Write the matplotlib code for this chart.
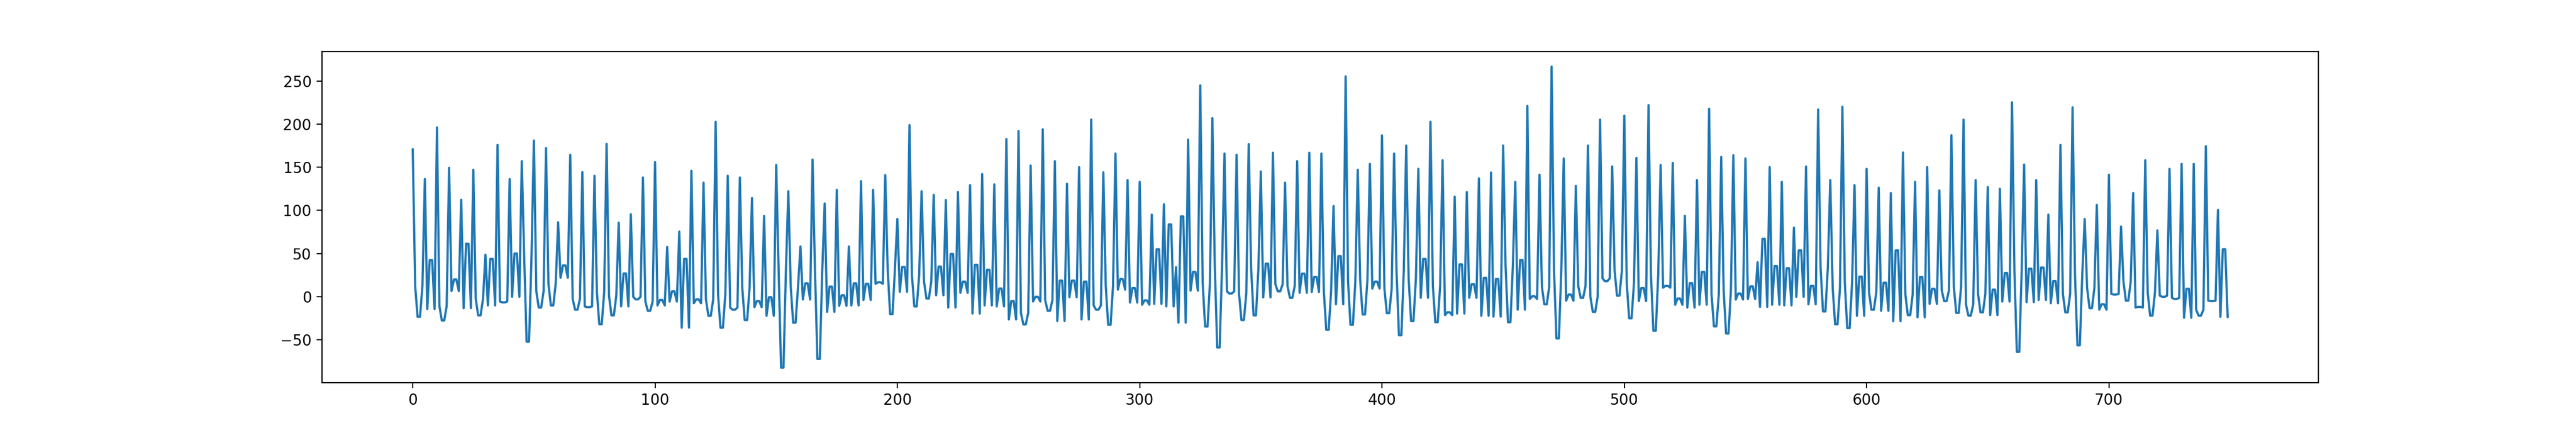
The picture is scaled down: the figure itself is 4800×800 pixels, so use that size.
import numpy as np
import matplotlib
matplotlib.use('Agg')
import matplotlib.pyplot as plt

# the series repeats in groups of five samples: peak, shoulder, mid, mid, shoulder
# values, one entry per group (150 groups -> 750 samples)
peak = [170.7, 136.3, 196.2, 149.4, 112.3, 147.1, 48.6, 175.9, 136.3, 157.1,
        181.0, 172.2, 86.2, 164.4, 144.4, 140.1, 177.2, 85.7, 95.5, 138.1,
        155.9, 57.4, 75.4, 145.9, 132.1, 202.8, 140.1, 138.1, 114.3, 93.5,
        152.6, 122.1, 58.1, 158.9, 108.0, 123.8, 58.1, 133.8, 123.8, 140.9,
        90.0, 199.0, 122.1, 118.0, 112.0, 121.3, 129.3, 142.1, 130.1, 182.7,
        192.0, 151.9, 194.0, 157.1, 130.8, 150.1, 205.3, 144.1, 165.9, 135.1,
        133.1, 95.0, 107.0, 34.1, 182.0, 244.9, 207.0, 165.9, 164.4, 176.9,
        145.1, 166.9, 132.1, 157.1, 166.9, 165.9, 105.0, 255.4, 147.1, 153.9,
        187.0, 165.9, 175.2, 148.1, 202.8, 158.1, 116.0, 121.3, 137.1, 143.9,
        175.2, 133.1, 221.1, 141.4, 266.7, 160.2, 128.3, 175.2, 205.3, 150.9,
        209.8, 160.9, 222.1, 152.6, 155.1, 93.7, 135.1, 217.8, 161.9, 163.9,
        160.2, 39.8, 150.1, 133.1, 80.0, 150.9, 217.0, 135.1, 220.3, 129.3,
        148.1, 126.3, 120.1, 167.2, 133.1, 150.1, 123.1, 187.2, 205.3, 135.1,
        127.1, 125.1, 225.3, 153.1, 135.1, 95.0, 175.9, 219.5, 90.0, 106.3,
        141.4, 81.2, 120.1, 158.1, 76.7, 148.1, 153.9, 153.9, 174.4, 100.5]

shoulder = [12.3, -14.5, -11.0, 6.3, -13.5, -2.8, -10.3, -5.8, -0.3, 45.0,
            6.0, 14.8, 21.8, -2.8, -11.5, 4.8, 1.0, -11.5, -0.3, -5.8,
            -10.3, -5.8, -36.1, -7.8, -3.3, 2.3, -12.8, 9.8, -12.3, -22.3,
            30.0, 11.0, -3.5, 30.0, -17.8, -10.8, -10.3, -4.0, 14.8, 32.0,
            5.5, 24.8, 17.3, 1.5, -12.8, 4.3, -19.8, -10.3, -11.5, -26.6,
            -19.0, -5.8, -4.0, -28.3, -0.8, -26.6, -10.3, 12.3, 8.0, -7.0,
            -9.5, -8.5, -11.5, -30.3, 6.8, 16.0, 35.0, 6.0, 3.5, 32.3,
            -1.0, 14.3, 12.3, 4.3, 5.3, 6.0, -9.0, 17.3, 19.3, 9.3,
            9.3, 30.0, 21.1, -1.5, 12.3, -21.6, -19.8, -1.5, -22.3, -23.3,
            35.0, -15.3, -2.8, 11.0, 30.0, -4.8, 12.0, -0.3, 21.1, 29.8,
            16.0, -5.3, 25.0, 10.3, -9.5, -12.8, -9.5, 2.3, 7.3, -3.5,
            -2.8, -12.0, -9.5, -10.3, -0.3, -9.0, 33.6, 9.8, 16.0, -22.3,
            4.8, -16.5, -28.6, 2.3, -24.1, -8.5, 7.3, 11.0, -9.0, 2.8,
            -21.6, -5.8, 30.0, -6.5, -4.0, -7.8, 3.0, 25.0, 9.8, -15.3,
            3.0, 17.3, -12.8, 4.8, 1.0, -1.5, -24.6, -15.3, -4.8, -23.6]

mid = [-23.5, 42.4, -27.8, 19.8, 61.2, -21.8, 43.6, -6.8, 49.9, -52.4,
       -12.8, -10.3, 36.1, -15.3, -12.3, -32.1, -21.8, 26.8, -3.3, -16.5,
       -4.0, 6.0, 43.6, -3.3, -22.3, -36.1, -15.3, -27.3, -5.3, -0.8,
       -82.5, -30.3, 15.3, -72.4, 11.5, 1.5, 15.3, 14.8, 16.5, -20.3,
       34.3, -11.5, -2.3, 34.8, 49.4, 17.3, 36.8, 31.1, 9.3, -5.3,
       -32.3, -0.3, -16.5, 18.5, 18.5, 17.3, -15.3, -32.8, 20.3, 9.8,
       -4.5, 54.9, 83.7, 93.0, 28.6, -34.8, -59.1, 3.5, -27.3, -21.8,
       38.1, 6.0, -1.5, 26.6, 22.8, -38.6, 46.9, -32.8, -20.8, 17.3,
       -19.3, -44.9, -28.3, 43.6, -29.8, -18.3, 37.3, 14.3, 21.6, 20.3,
       -29.8, 42.4, 0.3, -9.0, -48.6, 2.3, -1.5, -17.8, 17.8, 1.0,
       -25.3, 9.8, -39.6, 12.3, -2.3, 15.5, 28.6, -34.6, -42.9, 3.5,
       11.8, 66.9, 35.3, 32.8, 53.6, 12.3, -17.3, -32.1, -36.6, 23.1,
       -15.3, 16.0, 53.6, -21.6, 22.8, 9.0, -5.3, -19.0, -22.1, -18.3,
       8.0, 27.3, -64.2, 32.3, 33.6, 17.8, -18.3, -56.6, -13.5, -9.0,
       2.3, -4.8, -12.0, -22.1, -0.3, -2.8, 9.0, -22.1, -5.3, 54.9]

values = np.column_stack([peak, shoulder, mid, mid, shoulder]).ravel()
x = np.arange(len(values))

fig, ax = plt.subplots(figsize=(24, 4), dpi=200)
ax.plot(x, values)
fig.savefig('out.png', dpi=200)
